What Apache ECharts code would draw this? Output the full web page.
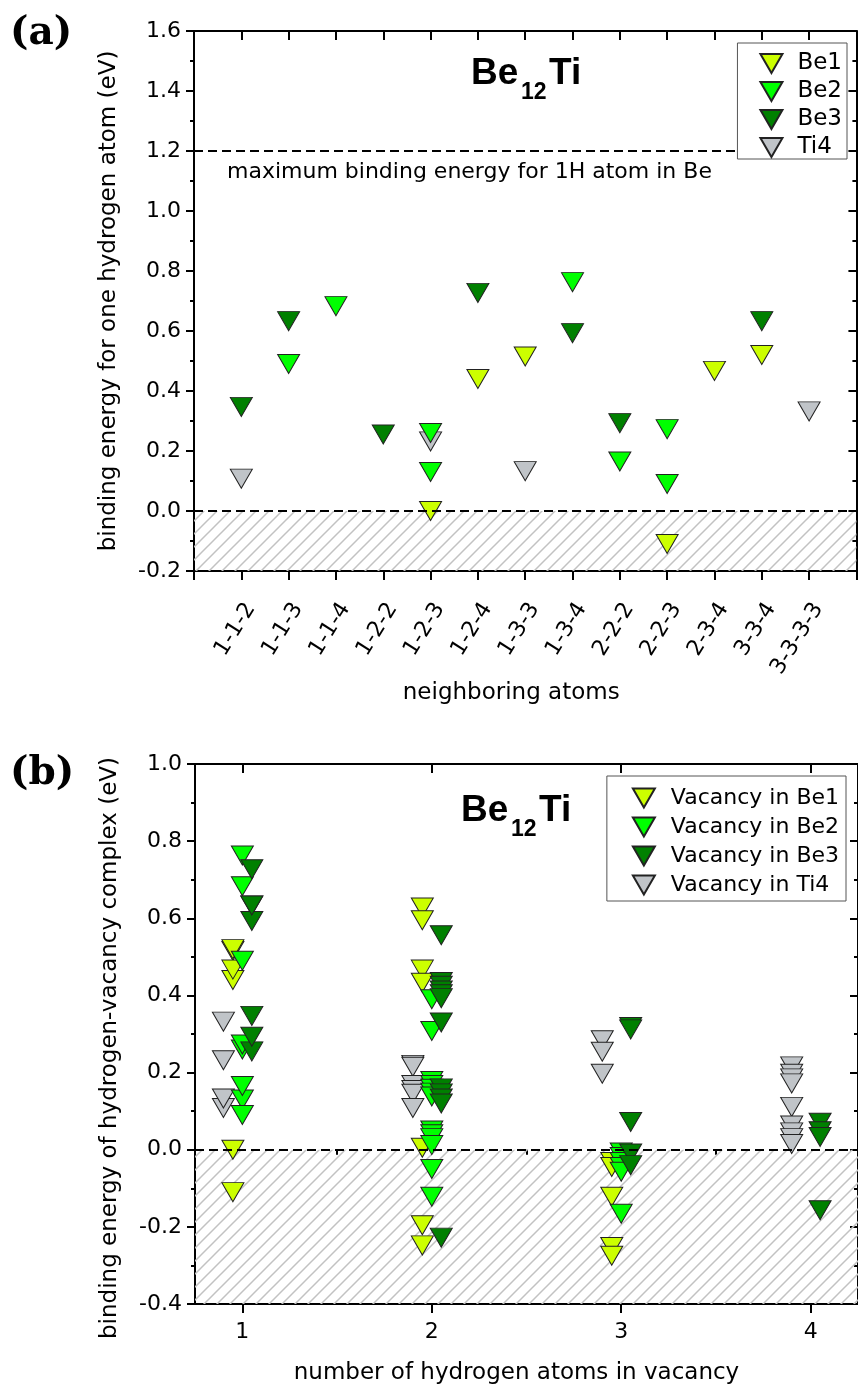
<!DOCTYPE html>
<html>
<head>
<meta charset="utf-8">
<script src="https://cdn.jsdelivr.net/npm/echarts@6/dist/echarts.min.js"></script>
<style>
  html, body { margin: 0; padding: 0; background: #fff; }
  #chart { width: 858px; height: 1389px; }
</style>
</head>
<body>
<div id="chart"></div>
<script>
// (a) binding energy of one H atom vs neighbouring atoms
const neighbors = ['1-1-2', '1-1-3', '1-1-4', '1-2-2', '1-2-3', '1-2-4', '1-3-3',
  '1-3-4', '2-2-2', '2-2-3', '2-3-4', '3-3-4', '3-3-3-3'];

const be1Sites = ['1-2-3', '1-2-4', '1-3-3', '2-2-3', '2-3-4', '3-3-4'];
const be1Energy = [0.00, 0.44, 0.515, -0.11, 0.467, 0.52];
const be2Sites = ['1-1-3', '1-1-4', '1-2-3', '1-2-3', '1-3-4', '2-2-2', '2-2-3', '2-2-3'];
const be2Energy = [0.49, 0.683, 0.26, 0.13, 0.763, 0.165, 0.273, 0.09];
const be3Sites = ['1-1-2', '1-1-3', '1-2-2', '1-2-4', '1-3-4', '2-2-2', '3-3-4'];
const be3Energy = [0.347, 0.633, 0.255, 0.727, 0.593, 0.293, 0.633];
const ti4Sites = ['1-1-2', '1-2-3', '1-3-3', '3-3-3-3'];
const ti4Energy = [0.108, 0.232, 0.133, 0.332];

const maxBeEnergy = 1.2; // max binding energy for 1H atom in Be

// (b) binding energy of H-vacancy complex vs number of H atoms
const hydrogenCounts = [1, 2, 3, 4];
const be1Vac = [
  be1Energy,
  [0.628, 0.595, 0.467, 0.433, 0.005, -0.196, -0.248],
  [-0.032, -0.045, -0.122, -0.252, -0.275],
  [],
];
const be2Vac = [
  be2Energy,
  [0.39, 0.308, 0.178, 0.168, 0.158, 0.148, 0.138, 0.05, 0.04, 0.03, 0.012, -0.05, -0.122],
  [-0.007, -0.019, -0.032, -0.045, -0.057, -0.166],
  [],
];
const be3Vac = [
  be3Energy,
  [0.556, 0.435, 0.425, 0.413, 0.403, 0.393, 0.33, 0.159, 0.146, 0.133, 0.12, -0.228],
  [0.318, 0.312, 0.072, -0.01, -0.04],
  [0.07, 0.048, 0.033, -0.157],
];
const ti4Vac = [
  ti4Energy,
  [0.22, 0.215, 0.168, 0.155, 0.145, 0.108],
  [0.284, 0.254, 0.197],
  [0.216, 0.197, 0.185, 0.172, 0.111, 0.063, 0.045, 0.03, 0.015],
];

const FONT = 'DejaVu Sans';
const TRI = 'path://M0,0L22,0L11,19Z';
const colors = { be1: '#ccff00', be2: '#00ff00', be3: '#008000', ti4: '#c0c4c8' };
// small horizontal shift of each vacancy type in (b)
const shift = { ti4: -0.1, be1: -0.05, be2: 0, be3: 0.05 };

// hatch pattern for the negative region
const hatch = document.createElement('canvas');
hatch.width = 13;
hatch.height = 13;
const hctx = hatch.getContext('2d');
hctx.strokeStyle = '#c2c2c2';
hctx.lineWidth = 1.5;
hctx.beginPath();
hctx.moveTo(-1, 14); hctx.lineTo(14, -1);
hctx.moveTo(-2, 2); hctx.lineTo(2, -2);
hctx.moveTo(11, 15); hctx.lineTo(15, 11);
hctx.stroke();

function sitePoints(sites, vals) {
  return sites.map((s, i) => [neighbors.indexOf(s) + 1, vals[i]]);
}
function vacPoints(byH, dx) {
  const pts = [];
  byH.forEach((vals, i) => vals.forEach(v => pts.push([hydrogenCounts[i] + dx, v])));
  return pts;
}
function tri(name, color, data, grid) {
  return {
    name,
    type: 'scatter',
    xAxisIndex: grid === 0 ? 0 : 2,
    yAxisIndex: grid === 0 ? 0 : 2,
    symbol: TRI,
    symbolSize: [22, 19],
    itemStyle: { color, borderColor: '#222', borderWidth: 1, opacity: 1 },
    data,
    z: 3,
  };
}
const fmt1 = v => (Math.abs(v) < 1e-9 ? 0 : v).toFixed(1);

const axisLine = { show: true, onZero: false, lineStyle: { color: '#000', width: 2 } };
const tickStyle = { color: '#000', width: 2 };

function yAxes(gridIndex, min, max, name, namePad) {
  return [{
    type: 'value', gridIndex, min, max, interval: 0.2, position: 'left',
    axisLine,
    axisTick: { show: true, inside: false, length: 8, lineStyle: tickStyle },
    minorTick: { show: true, splitNumber: 2, length: 4, lineStyle: tickStyle },
    axisLabel: { formatter: fmt1, fontSize: 22, fontFamily: FONT, color: '#000', margin: 13 },
    splitLine: { show: false },
    minorSplitLine: { show: false },
    name, nameLocation: 'middle', nameGap: 73,
    nameTextStyle: { fontSize: 23, fontFamily: FONT, color: '#000', padding: namePad },
  }, {
    type: 'value', gridIndex, min, max, interval: 0.2, position: 'right',
    axisLine,
    axisTick: { show: true, inside: true, length: 8, lineStyle: tickStyle },
    minorTick: { show: true, splitNumber: 2, length: 4, lineStyle: tickStyle },
    axisLabel: { show: false },
    splitLine: { show: false },
  }];
}

function guideSeries(xi, yi, bottom, lines) {
  return {
    type: 'line', xAxisIndex: xi, yAxisIndex: yi, data: [], z: 1, silent: true,
    markArea: {
      silent: true,
      itemStyle: { color: { image: hatch, repeat: 'repeat' } },
      data: [[{ yAxis: bottom }, { yAxis: 0 }]],
    },
    markLine: {
      silent: true, symbol: 'none', label: { show: false },
      lineStyle: { color: '#000', type: [9, 5], width: 2 },
      data: lines.map(v => ({ yAxis: v })),
    },
  };
}

function textEl(text, x, y, font) {
  return {
    type: 'text', x, y, silent: true,
    style: { text, font, fill: '#000', align: 'left', verticalAlign: 'middle',
      textAlign: 'left', textVerticalAlign: 'middle' },
  };
}

const legendBase = {
  orient: 'vertical', selectedMode: false, itemWidth: 22, itemHeight: 19, z: 20,
  borderColor: '#555', borderWidth: 1, backgroundColor: '#fff', borderRadius: 0,
};

const option = {
  animation: false,
  backgroundColor: '#fff',
  grid: [
    { left: 194, top: 31, width: 666, height: 540, show: false },
    { left: 195, top: 764, width: 666, height: 540, show: false },
  ],
  xAxis: [
    {
      type: 'value', gridIndex: 0, min: 0, max: 14, interval: 1, position: 'bottom',
      axisLine,
      axisTick: { show: true, inside: false, length: 9, lineStyle: tickStyle },
      axisLabel: {
        formatter: v => (v >= 1 && v <= neighbors.length ? neighbors[v - 1] : ''),
        rotate: 58, align: 'right', verticalAlign: 'top', margin: 28,
        fontSize: 22, fontFamily: FONT, color: '#000',
      },
      splitLine: { show: false },
      name: 'neighboring atoms', nameLocation: 'middle', nameGap: 108,
      nameTextStyle: { fontSize: 23, fontFamily: FONT, color: '#000', padding: [0, 28, 0, 0] },
    },
    {
      type: 'value', gridIndex: 0, min: 0, max: 14, interval: 1, position: 'top',
      axisLine,
      axisTick: { show: true, inside: true, length: 9, lineStyle: tickStyle },
      axisLabel: { show: false },
      splitLine: { show: false },
    },
    {
      type: 'value', gridIndex: 1, min: 0.75, max: 4.25, position: 'bottom',
      axisLine,
      axisTick: { show: true, inside: false, length: 9, lineStyle: tickStyle, customValues: hydrogenCounts },
      axisLabel: {
        customValues: hydrogenCounts, formatter: v => String(Math.round(v)),
        fontSize: 22, fontFamily: FONT, color: '#000', margin: 17,
      },
      splitLine: { show: false },
      name: 'number of hydrogen atoms in vacancy', nameLocation: 'middle', nameGap: 58,
      nameTextStyle: { fontSize: 23, fontFamily: FONT, color: '#000', padding: [0, 20, 0, 0] },
    },
    {
      type: 'value', gridIndex: 1, min: 0.75, max: 4.25, position: 'top',
      axisLine,
      axisTick: { show: true, inside: true, length: 9, lineStyle: tickStyle, customValues: hydrogenCounts },
      axisLabel: { show: false },
      splitLine: { show: false },
    },
    {
      type: 'value', gridIndex: 1, min: 0.75, max: 4.25, position: 'bottom',
      axisLine: { show: false },
      axisTick: { show: true, inside: false, length: 5, lineStyle: tickStyle, customValues: [1.5, 2.5, 3.5] },
      axisLabel: { show: false },
      splitLine: { show: false },
    },
    {
      type: 'value', gridIndex: 1, min: 0.75, max: 4.25, position: 'top',
      axisLine: { show: false },
      axisTick: { show: true, inside: true, length: 5, lineStyle: tickStyle, customValues: [1.5, 2.5, 3.5] },
      axisLabel: { show: false },
      splitLine: { show: false },
    },
  ],
  yAxis: [
    ...yAxes(0, -0.2, 1.6, 'binding energy for one hydrogen atom (eV)', [0, 0, 0, 0]),
    ...yAxes(1, -0.4, 1.0, 'binding energy of hydrogen-vacancy complex (eV)', [0, 28, 0, 0]),
  ],
  legend: [
    {
      ...legendBase,
      data: ['Be1', 'Be2', 'Be3', 'Ti4'],
      right: 11, top: 43, padding: [9, 5, 0, 22], itemGap: 5,
      textStyle: { fontSize: 23, fontFamily: FONT, color: '#000', padding: [0, 0, 0, 10] },
    },
    {
      ...legendBase,
      data: ['Vacancy in Be1', 'Vacancy in Be2', 'Vacancy in Be3', 'Vacancy in Ti4'],
      right: 12, top: 776, padding: [11, 7, 5, 25], itemGap: 7,
      textStyle: { fontSize: 22, fontFamily: FONT, color: '#000', padding: [0, 0, 0, 11] },
    },
  ],
  graphic: [
    textEl('(a)', 10, 34, 'bold 39px "DejaVu Serif"'),
    textEl('(b)', 10, 774, 'bold 39px "DejaVu Serif"'),
    textEl('Be', 471, 74, 'bold 37px "Liberation Sans"'),
    textEl('12', 521, 93, 'bold 23px "Liberation Sans"'),
    textEl('Ti', 549, 74, 'bold 37px "Liberation Sans"'),
    textEl('Be', 461, 811, 'bold 37px "Liberation Sans"'),
    textEl('12', 511, 830, 'bold 23px "Liberation Sans"'),
    textEl('Ti', 539, 811, 'bold 37px "Liberation Sans"'),
    textEl('maximum binding energy for 1H atom in Be', 227, 172, '22px "DejaVu Sans"'),
  ],
  series: [
    guideSeries(0, 0, -0.2, [maxBeEnergy, 0]),
    tri('Ti4', colors.ti4, sitePoints(ti4Sites, ti4Energy), 0),
    tri('Be1', colors.be1, sitePoints(be1Sites, be1Energy), 0),
    tri('Be2', colors.be2, sitePoints(be2Sites, be2Energy), 0),
    tri('Be3', colors.be3, sitePoints(be3Sites, be3Energy), 0),
    guideSeries(2, 2, -0.4, [0]),
    tri('Vacancy in Ti4', colors.ti4, vacPoints(ti4Vac, shift.ti4), 1),
    tri('Vacancy in Be1', colors.be1, vacPoints(be1Vac, shift.be1), 1),
    tri('Vacancy in Be2', colors.be2, vacPoints(be2Vac, shift.be2), 1),
    tri('Vacancy in Be3', colors.be3, vacPoints(be3Vac, shift.be3), 1),
  ],
};

const chart = echarts.init(document.getElementById('chart'));
chart.setOption(option);
</script>
</body>
</html>
